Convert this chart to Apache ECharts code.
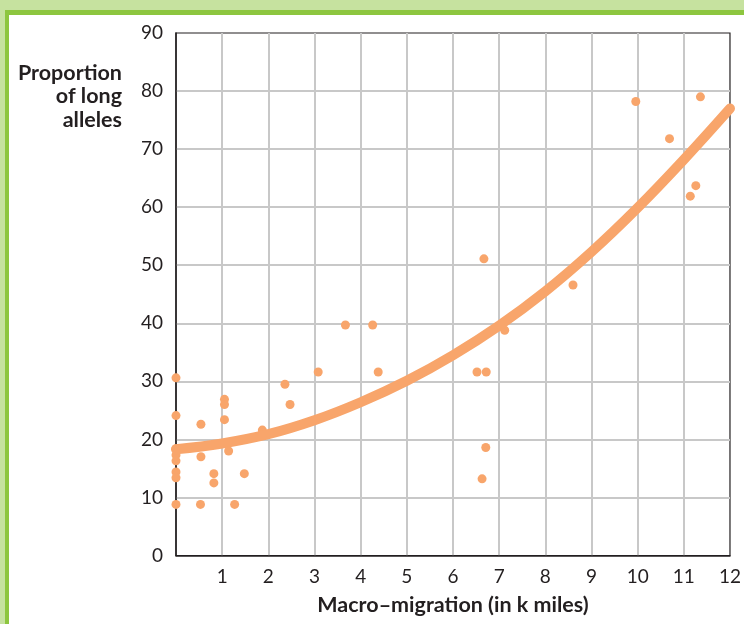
<!DOCTYPE html>
<html>
<head>
<meta charset="utf-8">
<script src="https://cdn.jsdelivr.net/npm/echarts@6/dist/echarts.min.js"></script>
<style>
html,body{margin:0;padding:0;background:#fff;}
#chart{width:744px;height:624px;}
</style>
</head>
<body>
<div id="chart"></div>
<script>
// Scatter observations
var pointX = [0, 0, 0, 0, 0, 0, 0, 0,
  0.54, 0.54, 0.82, 0.82, 0.53, 1.05, 1.05, 1.05, 1.14, 1.27, 1.48, 1.87,
  2.36, 2.47, 3.08, 3.67, 4.26, 4.38,
  6.67, 7.12, 6.52, 6.72, 6.71, 6.63, 8.6,
  9.96, 11.36, 10.69, 11.26, 11.14];
var pointY = [30.6, 24.1, 18.4, 17.3, 16.3, 14.4, 13.4, 8.8,
  22.6, 17.0, 14.1, 12.5, 8.8, 26.9, 26.0, 23.4, 18.0, 8.8, 14.1, 21.6,
  29.5, 26.0, 31.6, 39.7, 39.7, 31.6,
  51.1, 38.8, 31.6, 31.6, 18.6, 13.2, 46.6,
  78.2, 79.0, 71.8, 63.7, 61.9];
// Trend curve
var curveX = [0, 1, 2, 3, 4, 5, 6, 7, 8, 9, 10, 11, 12];
var curveY = [18.3, 19.3, 20.9, 23.3, 26.4, 30.1, 34.5, 39.6, 45.5, 52.3, 59.9, 68.2, 77.0];
// Axis text
var xAxisTitle = 'Macro\u2013migration (in k miles)';
var yAxisTitleLines = ['Proportion', 'of long', 'alleles'];

var scatterData = pointX.map(function (x, i) { return [x, pointY[i]]; });
var curveData = curveX.map(function (x, i) { return [x, curveY[i]]; });

var ORANGE = '#f8a56b';
var TEXT = '#231f20';
var FONT = 'Lato, "Open Sans", sans-serif';

var chart = echarts.init(document.getElementById('chart'), null, {renderer: 'canvas'});
chart.setOption({
  backgroundColor: '#ffffff',
  animation: false,
  grid: {
    left: 176, top: 33, right: 9, bottom: 68.5,
    show: true, borderColor: TEXT, borderWidth: 1.2, backgroundColor: 'transparent'
  },
  graphic: [
    {type: 'rect', z: -10, shape: {x: 0, y: 0, width: 744, height: 10}, style: {fill: '#c6e29f'}},
    {type: 'rect', z: -10, shape: {x: 0, y: 0, width: 5, height: 624}, style: {fill: '#c6e29f'}},
    {type: 'rect', z: -9, shape: {x: 5, y: 10, width: 739, height: 5}, style: {fill: '#8dc63f'}},
    {type: 'rect', z: -9, shape: {x: 5, y: 10, width: 4, height: 614}, style: {fill: '#8dc63f'}},
    {type: 'text', x: 122, y: 61, z: 10,
      style: {text: yAxisTitleLines.join('\n'), fill: TEXT, font: 'bold 21.5px ' + FONT,
        textAlign: 'right', textVerticalAlign: 'top', lineHeight: 23.5}}
  ],
  xAxis: {
    type: 'value', min: 0, max: 12, interval: 1,
    name: xAxisTitle, nameLocation: 'middle', nameGap: 39,
    nameTextStyle: {color: TEXT, fontFamily: FONT, fontWeight: 'bold', fontSize: 21.5},
    axisLine: {show: true, lineStyle: {color: TEXT, width: 1.5}},
    axisTick: {show: false},
    axisLabel: {color: TEXT, fontFamily: FONT, fontSize: 19, margin: 12, showMinLabel: false},
    splitLine: {show: true, showMinLine: false, showMaxLine: false, lineStyle: {color: '#c8c8c8', width: 2}}
  },
  yAxis: {
    type: 'value', min: 0, max: 90, interval: 10,
    axisLine: {show: true, lineStyle: {color: TEXT, width: 1.5}},
    axisTick: {show: false},
    axisLabel: {color: TEXT, fontFamily: FONT, fontSize: 19, margin: 13},
    splitLine: {show: true, showMinLine: false, showMaxLine: false, lineStyle: {color: '#c8c8c8', width: 2}}
  },
  series: [
    {
      type: 'scatter', data: scatterData, symbolSize: 9,
      itemStyle: {color: ORANGE, opacity: 1}, z: 3
    },
    {
      type: 'line', data: curveData, smooth: 0.4, symbol: 'none',
      lineStyle: {color: ORANGE, width: 10, cap: 'round'}, z: 4
    }
  ]
});
</script>
</body>
</html>
